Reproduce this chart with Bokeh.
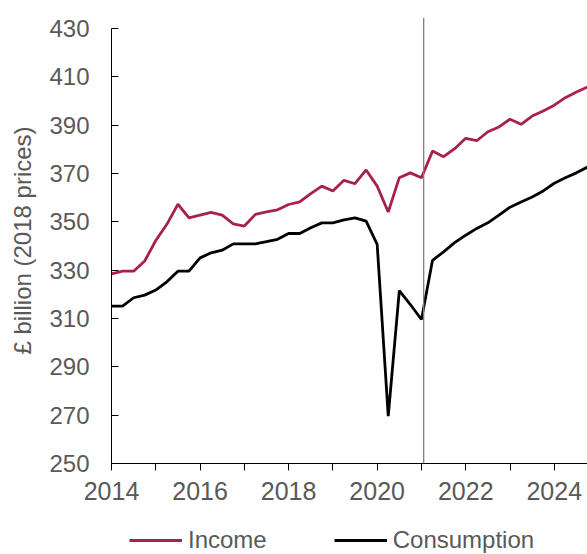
from bokeh.plotting import figure
from bokeh.models import FixedTicker, Span, Legend, LegendItem, Range1d
from bokeh.layouts import column
from bokeh.embed import file_html
from bokeh.resources import INLINE

# Quarterly data, 2014 Q1 .. 2024 Q4 (£ billion, 2018 prices)
years = [2014 + q / 4 for q in range(44)]
income = [328.5, 329.6, 329.6, 333.8, 342.3, 349.0, 357.3, 351.7, 352.8, 353.9,
          352.8, 349.2, 348.3, 353.1, 354.1, 355.0, 357.2, 358.3, 361.7, 364.8,
          362.8, 367.2, 365.8, 371.5, 364.8, 354.1, 368.3, 370.3, 368.3, 379.3,
          377.0, 380.3, 384.6, 383.6, 387.3, 389.3, 392.5, 390.4, 393.8, 395.9,
          398.3, 401.4, 403.8, 405.8]
consumption = [315.1, 315.1, 318.6, 319.7, 321.8, 325.2, 329.6, 329.6, 335.1, 337.2,
               338.3, 340.9, 340.9, 340.9, 341.8, 342.8, 345.2, 345.2, 347.6, 349.6,
               349.6, 350.8, 351.7, 350.3, 340.7, 269.6, 321.6, 315.8, 309.6, 334.1,
               337.6, 341.4, 344.5, 347.3, 349.6, 352.8, 356.1, 358.2, 360.3, 362.8,
               366.0, 368.3, 370.3, 372.7]
series_names = ["Income", "Consumption"]
major_years = [2014, 2016, 2018, 2020, 2022, 2024]
minor_years = [2015, 2017, 2019, 2021, 2023]
y_ticks = [250, 270, 290, 310, 330, 350, 370, 390, 410, 430]
forecast_start = 2021.05

FONT = "Liberation Sans"
GREY = "#595959"
INCOME_COL = "#A82050"
CONS_COL = "black"

p = figure(frame_width=476, frame_height=446, output_backend="svg", toolbar_location=None,
           x_range=Range1d(2014, 2024.75), y_range=Range1d(250, 434.6),
           min_border_left=111, min_border_right=0, min_border_top=17,
           min_border_bottom=47)
p.outline_line_color = None
p.xgrid.grid_line_color = None
p.ygrid.grid_line_color = None
p.background_fill_color = "white"
p.border_fill_color = "white"

p.line(years, income, line_color=INCOME_COL, line_width=2.8)
p.line(years, consumption, line_color=CONS_COL, line_width=2.8)

p.add_layout(Span(location=forecast_start, dimension="height",
                  line_color="#808080", line_width=1.3))

# y axis
p.yaxis.ticker = FixedTicker(ticks=y_ticks)
p.yaxis.bounds = (250, 430)
p.yaxis.major_tick_in = 7
p.yaxis.major_tick_out = 0
p.yaxis.minor_tick_in = 0
p.yaxis.minor_tick_out = 0
p.yaxis.major_label_standoff = 22
p.yaxis.major_label_text_font = FONT
p.yaxis.major_label_text_font_size = "24px"
p.yaxis.major_label_text_color = GREY
p.yaxis.axis_label = "£ billion (2018 prices)"
p.yaxis.axis_label_text_font = FONT
p.yaxis.axis_label_text_font_size = "24px"
p.yaxis.axis_label_text_font_style = "normal"
p.yaxis.axis_label_text_color = GREY
p.yaxis.axis_label_standoff = 10
p.yaxis.axis_line_color = "black"
p.yaxis.major_tick_line_color = "black"

# x axis
p.xaxis.ticker = FixedTicker(ticks=major_years, minor_ticks=minor_years)
p.xaxis.major_tick_in = 0
p.xaxis.major_tick_out = 7
p.xaxis.minor_tick_in = 0
p.xaxis.minor_tick_out = 7
p.xaxis.minor_tick_line_color = "black"
p.xaxis.major_tick_line_color = "black"
p.xaxis.axis_line_color = "black"
p.xaxis.major_label_standoff = 11
p.xaxis.major_label_text_font = FONT
p.xaxis.major_label_text_font_size = "25px"
p.xaxis.major_label_text_color = GREY

# legend strip below the chart (series drawn out of its range, only the legend shows)
leg = figure(width=587, height=44, output_backend="svg", toolbar_location=None,
             x_range=Range1d(0, 1), y_range=Range1d(0, 1),
             min_border=0, x_axis_type=None, y_axis_type=None)
leg.outline_line_color = None
leg.xgrid.grid_line_color = None
leg.ygrid.grid_line_color = None
lr1 = leg.line(years, income, line_color=INCOME_COL, line_width=2.8)
lr2 = leg.line(years, consumption, line_color=CONS_COL, line_width=2.8)
legend = Legend(items=[LegendItem(label=series_names[0], renderers=[lr1]),
                       LegendItem(label=series_names[1], renderers=[lr2])],
                orientation="horizontal", location=(18, 0),
                glyph_width=53, glyph_height=20, label_standoff=6, spacing=67,
                padding=0, margin=0, border_line_alpha=0, background_fill_alpha=0,
                label_text_font=FONT, label_text_font_size="24px",
                label_text_color=GREY)
leg.add_layout(legend)

layout = column(p, leg, spacing=0)
open("out.html", "w").write(file_html(layout, INLINE))
